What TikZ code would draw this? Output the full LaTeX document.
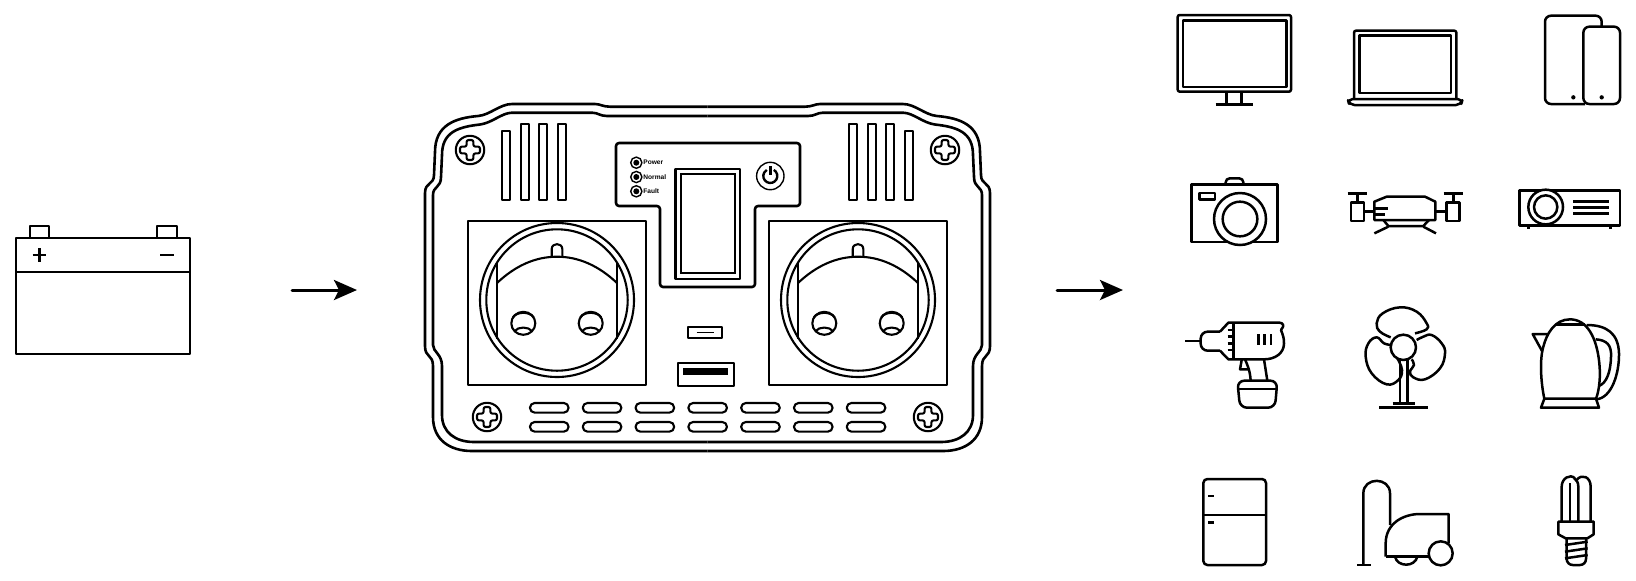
\documentclass[tikz,border=0pt]{standalone}
\usepackage{fontspec}
\setmainfont{Liberation Sans}
\usetikzlibrary{arrows.meta}
\newcommand{\casescrew}[2]{%
    \draw[thinline] (#1,#2) circle[radius=14.2];%
    \draw[thinline, rounded corners=1pt] (#1-3.4,#2-10) -- (#1+3.4,#2-10) -- (#1+3.4,#2-3.4) -- (#1+10,#2-3.4) -- (#1+10,#2+3.4) -- (#1+3.4,#2+3.4) -- (#1+3.4,#2+10) -- (#1-3.4,#2+10) -- (#1-3.4,#2+3.4) -- (#1-10,#2+3.4) -- (#1-10,#2-3.4) -- (#1-3.4,#2-3.4) -- cycle;%
}
\newcommand{\sockethole}[2]{%
    \draw[thinline] (#1,#2) ellipse[x radius=12, y radius=11.5];%
    \draw[thinline] (#1-10.5,#2-6) .. controls (#1-6,#2-12) and (#1+6,#2-12) .. (#1+10.5,#2-6);%
    \draw[thinline] (#1-9,#2+8) .. controls (#1-5,#2+3) and (#1+5,#2+3) .. (#1+9,#2+8);%
}
% one half of the case, the other half comes from mirrorx
\newcommand{\casehalf}{%
    % outlines
    \draw[caseline] (707.5,106.7) -- (610,106.7) .. controls (603,106.7) and (600,104) .. (595,104) -- (512,104)
        .. controls (500,104) and (490,115) .. (478,116) .. controls (455,118) and (435,125) .. (435,152)
        -- (434,175) .. controls (434,185) and (425,182) .. (425,193) -- (425,346)
        .. controls (425,358) and (433,354) .. (433,366) -- (433,417)
        .. controls (433,440) and (450,451) .. (472,451) -- (707.5,451);%
    \draw[caseline] (707.5,116) -- (607,116) .. controls (600,116) and (598,112.7) .. (592,112.7) -- (512,112.7)
        .. controls (502,112.7) and (492,123) .. (480,124.5) .. controls (458,127) and (442,132) .. (442,155)
        -- (441,177) .. controls (441,188) and (433,186) .. (433,195)
        -- (433,345) .. controls (433,352) and (442,354) .. (442,366) -- (442,415)
        .. controls (442,432) and (455,442) .. (474,442) -- (707.5,442);%
    % screws
    \casescrew{470}{150}
    \casescrew{487}{417}
    % top vents
    \draw[thinline] (502,131) rectangle (510,200);%
    \foreach \ventx in {520.7,539.2,557.7}
        \draw[thinline] (\ventx,124) rectangle (\ventx+8,200);%
    % socket
    \draw[thinline] (468,220.7) rectangle (645.7,385);%
    \draw[thinline] (557,300) circle[radius=77];%
    \draw[thinline] (557,300) circle[radius=70.7];%
    \draw[thinline] (497,262) -- (497,339);%
    \draw[thinline] (617,262) -- (617,339);%
    \draw[thinline] (497,283) .. controls (515,266) and (535,256.7) .. (557,256.7) .. controls (579,256.7) and (599,266) .. (617,283);%
    \draw[thinline] (551.7,257) -- (551.7,249) .. controls (551.7,242.5) and (562.3,242.5) .. (562.3,249) -- (562.3,257);%
    \sockethole{523.3}{323.3}
    \sockethole{590.7}{323.3}
}

\begin{document}
\begin{tikzpicture}[
        x=0.5pt,
        y=-0.5pt,
        caseline/.style={line width=1.3pt, line join=round},
        thinline/.style={line width=1.05pt, line join=round},
        hairline/.style={line width=0.7pt},
        icon/.style={line width=1.25pt, line join=round},
        flow/.style={-{Stealth[length=11.5pt, width=10pt, inset=2.5pt]}, line width=1.5pt, line cap=round},
        ledlabel/.style={font=\fontsize{3.3}{4}\selectfont\bfseries, anchor=west, inner sep=0pt},
        mirrorx/.style={shift={(1415,0)}, xscale=-1}
    ]
    \useasboundingbox (0,0) rectangle (1636,580);

    % === BATTERY ===
    \draw[icon] (16,238) rectangle (190,354);
    \draw[icon] (16,272) -- (190,272);
    \draw[icon] (30,238) -- (30,226) -- (49,226) -- (49,238);
    \draw[icon] (157,238) -- (157,226) -- (177,226) -- (177,238);
    \draw[icon] (32.5,255) -- (46,255);
    \draw[icon] (39.3,248) -- (39.3,262);
    \draw[icon] (160,255) -- (174,255);

    % === ARROWS ===
    \coordinate (batteryout) at (292,290);
    \coordinate (casein) at (357,290);
    \coordinate (caseout) at (1057,290);
    \coordinate (loadin) at (1123,290);
    \draw[flow] (batteryout) -- (casein);
    \draw[flow] (caseout) -- (loadin);

    % === CASE ===
    \casehalf
    \begin{scope}[mirrorx]
        \casehalf
    \end{scope}

    % bottom vents
    \foreach \col in {0,...,6}
        \foreach \rowy in {403,422}
            \draw[thinline, rounded corners=2.3pt] (530+52.8*\col,\rowy) rectangle (568.5+52.8*\col,\rowy+9.6);

    % panel
    \draw[caseline, rounded corners=1.5pt] (616,143) -- (800,143) -- (800,206) -- (755,206) -- (755,287) -- (660,287) -- (660,206) -- (616,206) -- cycle;
    \draw[caseline] (675.7,169) rectangle (740,279);
    \draw[hairline] (681,174) rectangle (735,273);

    % leds
    \foreach \ledy/\ledname/\ledtext in {162.7/ledpower/Power,177/lednormal/Normal,191.3/ledfault/Fault} {
        \draw[hairline] (636.3,\ledy) circle[radius=5.6];
        \fill (636.3,\ledy) circle[radius=3];
        \node[ledlabel] (\ledname) at (643,\ledy) {\ledtext};
    }

    % power button
    \draw[hairline] (770.3,176) circle[radius=13.7];
    \draw[thinline, line width=1.2pt] (773.8,169.9) arc[start angle=-60, end angle=240, radius=7];
    \draw[thinline, line width=1.2pt] (770.3,166) -- (770.3,175);

    % usb ports
    \draw[thinline] (687.7,327.3) rectangle (721.7,337.7);
    \draw[hairline] (696.7,332.7) -- (714,332.7);
    \draw[thinline] (677.7,363) rectangle (734,385.7);
    \fill (683,367.7) rectangle (728,375);

    % === LOADS ===
    \begin{scope}[shift={(1160,0)}, scale=1/3]
        % monitor
        \draw[icon, rounded corners=1pt] (53,45) rectangle (393,275);
        \draw[icon] (69,61) rectangle (380,261);
        \draw[icon] (199,275) -- (199,314);
        \draw[icon] (245,275) -- (245,314);
        \draw[icon] (167,314) -- (280,314);
        % laptop
        \draw[icon, rounded corners=1pt] (582,297) -- (582,92) -- (889,92) -- (889,297);
        \draw[icon] (598,107) rectangle (873,279);
        \draw[icon, rounded corners=2.5pt] (563,297) -- (908,297) -- (903,315) -- (568,315) -- cycle;
        % tablet and phone
        \draw[icon, rounded corners=3pt] (1325,80) -- (1325,47) -- (1155,47) -- (1155,312) -- (1275,312);
        \draw[icon, rounded corners=3pt] (1270,80) rectangle (1380,312);
        \fill (1240,292) circle[radius=6.5];
        \fill (1325,292) circle[radius=6.5];
        % camera
        \draw[icon] (94,553) rectangle (353,726);
        \draw[icon, rounded corners=2pt] (197,553) -- (197,535) -- (250,535) -- (250,553);
        \draw[icon] (119,579) rectangle (165,598);
        \draw[icon, fill=white] (240,657) circle[radius=78];
        \draw[icon] (240,657) circle[radius=52];
        % drone
        \draw[icon] (643,660) -- (643,605) -- (680,590) -- (795,590) -- (826,605) -- (826,660) -- cycle;
        \draw[icon] (643,625) -- (685,625);
        \draw[icon] (643,643) -- (675,643);
        \draw[icon] (670,660) -- (685,678) -- (790,678) -- (807,660);
        \draw[icon] (685,680) -- (643,700);
        \draw[icon] (790,680) -- (828,700);
        \draw[icon] (612,635) -- (643,635);
        \draw[icon] (826,635) -- (860,635);
        \draw[icon] (573,607) rectangle (612,663);
        \draw[icon] (860,607) rectangle (899,663);
        \draw[icon] (563,580) -- (620,580);
        \draw[icon] (592,580) -- (592,607);
        \draw[icon] (851,580) -- (908,580);
        \draw[icon] (880,580) -- (880,607);
        % projector
        \draw[icon] (1079,571) rectangle (1380,676);
        \draw[icon, fill=white] (1157,621) circle[radius=52];
        \draw[icon] (1157,621) circle[radius=35];
        \foreach \liney in {605,622,640}
            \draw[icon] (1240,\liney) -- (1347,\liney);
        \draw[icon] (1105,676) -- (1105,686);
        \draw[icon] (1352,676) -- (1352,686);
    \end{scope}

    \begin{scope}[shift={(1160,290)}, scale=1/3]
        % drill
        \draw[icon] (75,153) -- (122,153);
        \draw[icon, rounded corners=3.5pt] (180,125) -- (122,125) -- (122,182) -- (180,182);
        \draw[icon] (180,125) -- (205,98) -- (358,98) .. controls (370,98) and (374,108) .. (364,118)
            .. controls (360,122) and (372,130) .. (372,160) .. controls (372,190) and (345,208) .. (312,208)
            -- (205,208) -- (180,182);
        \draw[icon] (220,98) -- (220,208);
        \foreach \ticky in {120,140,160,180}
            \draw[icon] (203,\ticky) -- (220,\ticky);
        \foreach \slotx in {295,314,333}
            \draw[icon] (\slotx,133) -- (\slotx,165);
        \draw[icon] (312,208) -- (322,272);
        \draw[icon] (255,208) .. controls (262,225) and (270,240) .. (272,272);
        \draw[icon] (245,210) -- (240,238) -- (264,238);
        \draw[icon, rounded corners=3.5pt] (232,272) -- (352,272) -- (345,353) -- (240,353) -- cycle;
        \draw[icon] (234,297) -- (350,297);
        % fan
        \draw[icon] (720,210) -- (720,340);
        \draw[icon] (742,210) -- (742,340);
        \draw[icon] (698,340) -- (765,340);
        \draw[icon] (657,353) -- (805,353);
        \draw[icon] plot[smooth, tension=0.7] coordinates {(692,142) (660,125) (650,100) (668,70) (720,52) (770,65) (800,100) (800,118) (765,130)};
        \draw[icon] plot[smooth, tension=0.7] coordinates {(695,165) (672,160) (650,142) (625,160) (617,200) (635,250) (680,283) (715,270) (726,240) (712,205)};
        \draw[icon] plot[smooth, tension=0.7] coordinates {(770,150) (790,140) (815,135) (845,160) (855,190) (840,235) (795,268) (760,262) (750,245) (762,225) (755,208)};
        \draw[icon, fill=white] (730,172) circle[radius=38];
        % kettle
        \draw[icon] (1280,105) .. controls (1340,105) and (1375,130) .. (1377,190) .. controls (1378,250) and (1355,325) .. (1308,328);
        \draw[icon] (1307,148) .. controls (1340,150) and (1355,165) .. (1353,200) .. controls (1352,245) and (1340,280) .. (1316,288);
        \draw[icon] (1150,190) -- (1118,132) -- (1165,132);
        \draw[icon, fill=white] (1153,326) .. controls (1143,280) and (1138,210) .. (1150,170) .. controls (1160,130) and (1185,88) .. (1230,88) .. controls (1280,88) and (1310,140) .. (1318,220) .. controls (1322,260) and (1318,300) .. (1308,326);
        \draw[icon] (1187,103) -- (1275,103);
        \draw[icon] (1153,326) -- (1308,326) -- (1317,353) -- (1143,353) -- cycle;
        % fridge
        \draw[icon, rounded corners=2pt] (130,567) rectangle (318,825);
        \draw[icon] (130,675) -- (318,675);
        \draw[icon] (145,618) -- (163,618);
        \draw[icon] (145,698) -- (163,698);
        % vacuum cleaner
        \draw[icon] (610,825) -- (610,610) .. controls (610,560) and (690,560) .. (690,610) -- (690,705);
        \draw[icon] (592,825) -- (632,825);
        \draw[icon] (677,800) -- (677,760) .. controls (677,700) and (730,672) .. (780,672) -- (866,672) -- (866,760);
        \draw[icon] (677,800) -- (810,800);
        \draw[icon] (705,800) .. controls (712,832) and (765,832) .. (772,800);
        \draw[icon, fill=white] (842,790) circle[radius=36];
        % bulb
        \draw[icon] (1205,695) -- (1205,590) .. controls (1205,565) and (1230,550) .. (1245,565);
        \draw[icon] (1250,570) .. controls (1265,550) and (1292,560) .. (1292,590) -- (1292,695);
        \draw[icon] (1255,695) -- (1255,590) .. controls (1255,578) and (1250,570) .. (1243,565);
        \draw[icon] (1230,695) -- (1230,580);
        \draw[icon] (1195,695) -- (1301,695) -- (1301,733) -- (1282,745) -- (1217,745) -- (1195,733) -- cycle;
        \draw[icon, rounded corners=3pt] (1220,745) -- (1220,825) -- (1278,825) -- (1278,745);
        \foreach \thready in {765,785,805}
            \draw[icon] (1215,\thready) -- (1283,\thready-10);
    \end{scope}
\end{tikzpicture}
\end{document}
